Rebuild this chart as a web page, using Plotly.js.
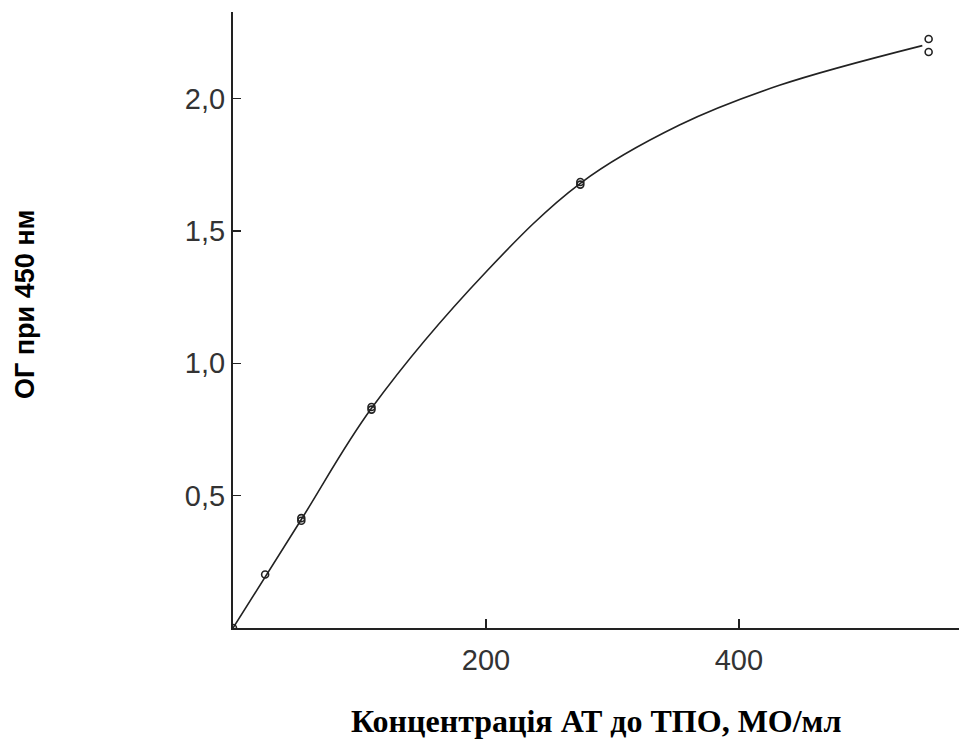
<!DOCTYPE html>
<html>
<head>
<meta charset="utf-8">
<script src="https://cdn.plot.ly/plotly-3.0.1.min.js"></script>
<style>html,body{margin:0;padding:0;background:#fff;}#chart{width:959px;height:756px;}</style>
</head>
<body>
<div id="chart"></div>
<script>
// Measured points (concentration, optical density)
const pointX = [0, 25.4, 54, 54, 109.5, 109.5, 274.6, 274.6, 550, 550];
const pointY = [0, 0.202, 0.405, 0.415, 0.825, 0.835, 1.675, 1.685, 2.225, 2.176];

// Fitted calibration curve
const curveX = [0, 54, 109.5, 200, 274.6, 353, 432, 545];
const curveY = [0, 0.41, 0.83, 1.345, 1.68, 1.90, 2.05, 2.2];

const xTicks = [200, 400];
const xTickText = ['200', '400'];
const yTicks = [0.5, 1.0, 1.5, 2.0];
const yTickText = ['0,5', '1,0', '1,5', '2,0'];

const xTitle = 'Концентрація АТ до ТПО, МО/мл';
const yTitle = 'ОГ при 450 нм';

const tickFont = {family: '"Liberation Sans", Arial, sans-serif', size: 29, color: '#333'};

const traces = [
  {
    x: curveX, y: curveY, type: 'scatter', mode: 'lines',
    line: {color: '#222', width: 1.6, shape: 'spline', smoothing: 1},
    hoverinfo: 'skip', showlegend: false
  },
  {
    x: pointX, y: pointY, type: 'scatter', mode: 'markers',
    marker: {symbol: 'circle-open', size: 7, color: '#222', line: {width: 1.6, color: '#222'}},
    showlegend: false
  }
];

const layout = {
  width: 959, height: 756,
  margin: {l: 233, r: 0, t: 12, b: 128},
  paper_bgcolor: '#fff', plot_bgcolor: '#fff',
  showlegend: false,
  xaxis: {
    range: [0, 574], showgrid: false, zeroline: false,
    showline: true, linecolor: '#222', linewidth: 2,
    ticks: 'inside', ticklen: 9, tickwidth: 1.5, tickcolor: '#222',
    tickvals: xTicks, ticktext: xTickText, tickfont: tickFont,
    ticklabelstandoff: 5
  },
  yaxis: {
    range: [0, 2.327], showgrid: false, zeroline: false,
    showline: true, linecolor: '#222', linewidth: 2,
    ticks: 'inside', ticklen: 8, tickwidth: 1.5, tickcolor: '#222',
    tickvals: yTicks, ticktext: yTickText, tickfont: tickFont,
    ticklabelstandoff: 0
  },
  annotations: [
    {
      text: xTitle, xref: 'paper', yref: 'paper', x: 0.5, y: 0,
      yshift: -93, showarrow: false,
      font: {family: '"Liberation Serif", "Times New Roman", serif', size: 32, color: '#000', weight: 'bold'},
      xanchor: 'center', yanchor: 'middle'
    },
    {
      text: yTitle, xref: 'paper', yref: 'paper', x: 0, y: 0.5,
      xshift: -208, yshift: 16, textangle: -90, showarrow: false,
      font: {family: '"Liberation Sans", Arial, sans-serif', size: 27, color: '#000', weight: 'bold'},
      xanchor: 'center', yanchor: 'middle'
    }
  ]
};

Plotly.newPlot('chart', traces, layout, {staticPlot: true, displayModeBar: false});
</script>
</body>
</html>
